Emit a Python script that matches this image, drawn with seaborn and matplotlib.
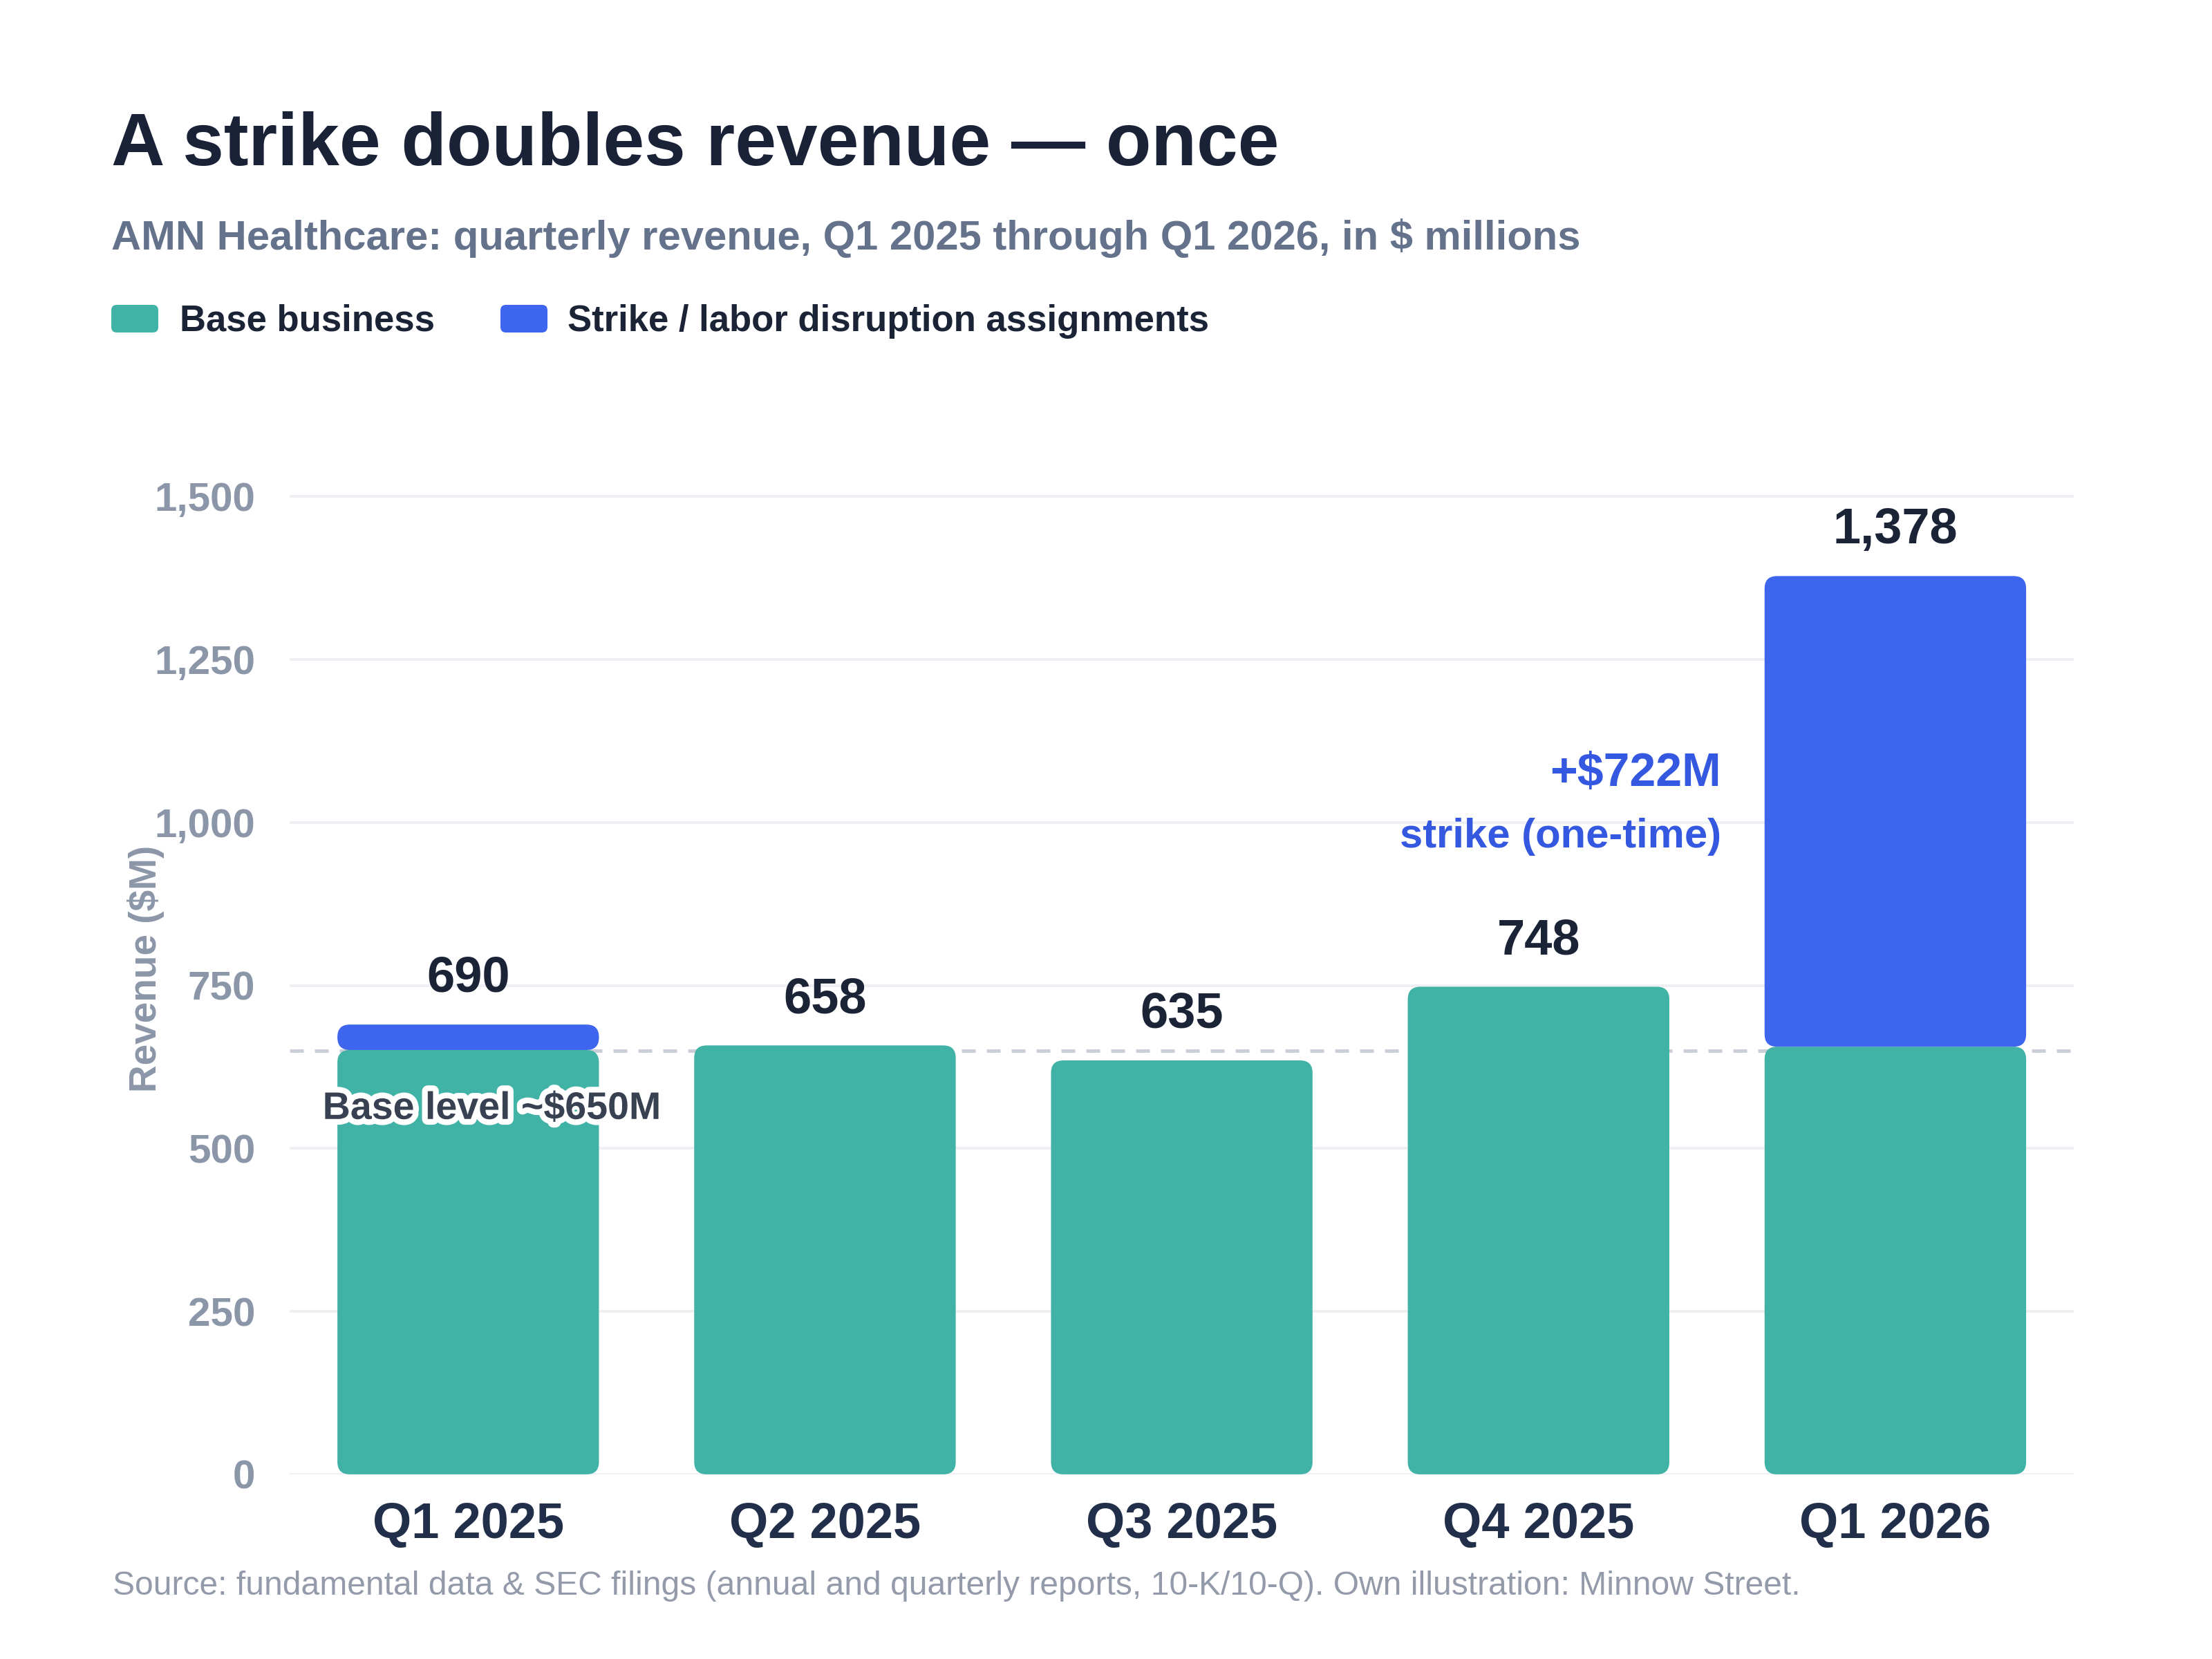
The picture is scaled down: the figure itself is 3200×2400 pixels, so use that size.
import matplotlib
matplotlib.use("Agg")
import matplotlib.pyplot as plt
import matplotlib.patheffects as pe
from matplotlib.patches import FancyBboxPatch
from matplotlib.transforms import IdentityTransform
from matplotlib.ticker import FuncFormatter
import pandas as pd
import seaborn as sns

# data ($ millions)
quarters = ["Q1 2025", "Q2 2025", "Q3 2025", "Q4 2025", "Q1 2026"]
base = [651, 658, 635, 748, 656]
strike = [39, 0, 0, 0, 722]
totals = [690, 658, 635, 748, 1378]
base_level = 650

teal = "#41B3A6"
blue = "#3D65EE"
navy = "#1B2337"
grey = "#8B96A8"

sns.set_style("white")
plt.rcParams["font.family"] = ["Liberation Sans", "DejaVu Sans"]

df = pd.DataFrame({"quarter": quarters, "base": base, "strike": strike, "total": totals})

fig = plt.figure(figsize=(16, 12), dpi=200)
ax = fig.add_axes([0.131, 0.1113, 0.8065, 0.6287])

sns.barplot(data=df, x="quarter", y="base", color=teal, width=0.733, saturation=1, ax=ax)
n_base = len(ax.patches)
sns.barplot(data=df, x="quarter", y="strike", color=blue, width=0.733, saturation=1, ax=ax)

ax.set_xlim(-0.5, 4.5)
ax.set_ylim(0, 1600)

# rounded corners: rebuild bars from seaborn's positions
px_x = ax.transData.transform((1, 0))[0] - ax.transData.transform((0, 0))[0]
px_y = ax.transData.transform((0, 1))[1] - ax.transData.transform((0, 0))[1]
aspect = px_x / px_y
rad = 18 / px_x

old = list(ax.patches)
for i, p in enumerate(old):
    x0, w = p.get_x(), p.get_width()
    p.remove()
    if i < n_base:
        k = i
        y0, h, col = 0, base[k], teal
    else:
        k = i - n_base
        if strike[k] <= 0:
            continue
        y0, h, col = base[k], strike[k], blue
    # keep small segments pill shaped
    r = min(rad, h / aspect / 2)
    ax.add_patch(FancyBboxPatch((x0, y0), w, h,
                                boxstyle=f"round,pad=0,rounding_size={r}",
                                mutation_aspect=aspect, fc=col, ec="none",
                                zorder=3))

# value labels
for i, t in enumerate(totals):
    ax.annotate(f"{t:,}", (i, t), xytext=(0, 17), textcoords="offset points",
                ha="center", va="baseline", fontsize=26, fontweight="bold",
                color=navy, zorder=5)

# base level line + label
ax.axhline(base_level, color="#C9CED8", lw=1.8, ls=(0, (4, 3.2)), zorder=2)
ax.text(-0.408, 560, "Base level ~$650M", ha="left", va="center", fontsize=20,
        fontweight="bold", color="#374151", zorder=6,
        path_effects=[pe.withStroke(linewidth=6, foreground="white")])

# strike annotation
left_edge = 4 - 0.733 / 2
ax.text(left_edge - 0.122, 1075, "+$722M", ha="right", va="center", fontsize=24.5,
        fontweight="bold", color="#3558E0", zorder=6)
ax.text(left_edge - 0.122, 978, "strike (one-time)", ha="right", va="center",
        fontsize=21.5, fontweight="bold", color="#3558E0", zorder=6)

# axes styling
ax.set_yticks([0, 250, 500, 750, 1000, 1250, 1500])
ax.yaxis.set_major_formatter(FuncFormatter(lambda v, _: f"{v:,.0f}"))
ax.grid(axis="y", color="#EEF0F4", lw=1.4, zorder=0)
ax.grid(axis="x", visible=False)
ax.set_axisbelow(True)
sns.despine(ax=ax, left=True, bottom=True)
ax.tick_params(axis="y", length=0, pad=18, labelsize=21, labelcolor=grey)
ax.tick_params(axis="x", length=0, pad=14, labelsize=26, labelcolor="#222F4A")
for lab in ax.get_yticklabels() + ax.get_xticklabels():
    lab.set_fontweight("bold")
ax.set_xlabel("")
ax.set_ylabel("")
fig.text(0.066, 0.416, "Revenue ($M)", rotation=90, ha="center", va="center",
         fontsize=19.8, fontweight="bold", color=grey)

# title, subtitle
fig.text(0.0503, 0.9005, "A strike doubles revenue \u2014 once", fontsize=38.6,
         fontweight="bold", color="#1A2238", va="baseline")
fig.text(0.0503, 0.8496,
         "AMN Healthcare: quarterly revenue, Q1 2025 through Q1 2026, in $ millions",
         fontsize=21.5, fontweight="bold", color="#64728C", va="baseline")

# legend
for (x0, col, label, tx) in [(161, teal, "Base business", 260),
                             (724, blue, "Strike / labor disruption assignments", 821)]:
    fig.add_artist(FancyBboxPatch((x0, 1919), 68, 40,
                                  boxstyle="round,pad=0,rounding_size=8",
                                  fc=col, ec="none", transform=IdentityTransform()))
    fig.text(tx / 3200, 0.8005, label, fontsize=19, fontweight="bold",
             color=navy, va="baseline")

# source
fig.text(0.051, 0.0388,
         "Source: fundamental data & SEC filings (annual and quarterly reports, 10-K/10-Q). "
         "Own illustration: Minnow Street.",
         fontsize=17.3, color="#939AAA", va="baseline")

fig.savefig("out.png", dpi=200, facecolor="white")
